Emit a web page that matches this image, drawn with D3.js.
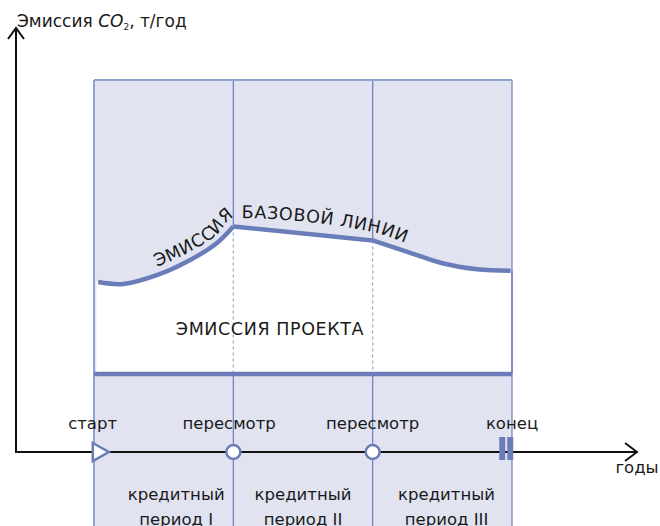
<!DOCTYPE html>
<html>
<head>
<meta charset="utf-8">
<script src="https://cdn.jsdelivr.net/npm/d3@7"></script>
<style>
  body { margin: 0; background: #fff; }
  text { font-family: "DejaVu Sans", sans-serif; fill: #1a1a1a; }
</style>
</head>
<body>
<svg id="chart" width="660" height="526"></svg>
<script>
// period boundaries (years since start)
const periods = [0, 1, 2, 3]
const periodLabels = [['кредитный', 'период I'], ['кредитный', 'период II'], ['кредитный', 'период III']]
const periodLabelX = [0.59, 1.5, 2.53]
const regionTop = 93

// baseline emission, three pieces
const baseSeg1 = [[0.03, 42.5], [0.21, 42], [0.45, 44.2], [0.69, 48], [0.88, 52.2], [1, 56.4]]
const baseSeg2 = [[1, 56.4], [2, 52.9]]
const baseSeg3 = [[2, 52.9], [2.27, 49.8], [2.5, 47.2], [2.75, 45.7], [2.99, 45.3]]
const projectLevel = 19.5

const events = [
  {t: 0.02, name: 'старт', type: 'start'},
  {t: 1, name: 'пересмотр', type: 'review'},
  {t: 2, name: 'пересмотр', type: 'review'},
  {t: 2.93, name: 'конец', type: 'end'}
]
const eventLabelX = [-0.01, 0.97, 2.0, 3.0]

const blue = '#6b7db9'
const svg = d3.select('#chart')
const x = d3.scaleLinear().domain([0, 3]).range([94, 512])
const y = d3.scaleLinear().domain([0, 100]).range([452, 52])

// lavender background
svg.append('rect')
  .attr('x', x(0)).attr('y', y(regionTop))
  .attr('width', x(3) - x(0)).attr('height', 526 - y(regionTop))
  .attr('fill', '#e1e3f1')

// vertical period lines
svg.selectAll('.vline').data(periods).join('line')
  .attr('x1', d => x(d)).attr('x2', d => x(d))
  .attr('y1', y(regionTop)).attr('y2', 526)
  .attr('stroke', d => d == 0 ? '#92a2d4' : blue)
  .attr('stroke-width', d => d == 0 ? 2 : 1.2)
svg.append('line')
  .attr('x1', x(0)).attr('x2', x(3))
  .attr('y1', y(regionTop)).attr('y2', y(regionTop))
  .attr('stroke', '#92a2d4').attr('stroke-width', 2)

// white area between baseline and project line
const curve = d3.curveCatmullRom.alpha(0.5)
const pieces = [baseSeg1, baseSeg2, baseSeg3]
const areaGen = d3.area().x(d => x(d[0])).y0(y(projectLevel)).y1(d => y(d[1]))
pieces.forEach((seg, i) => {
  const pts = i == 0 ? [[0.02, seg[0][1]]].concat(seg) : seg
  svg.append('path')
    .attr('d', areaGen.curve(i == 1 ? d3.curveLinear : curve)(pts))
    .attr('fill', '#fff').attr('stroke', '#fff').attr('stroke-width', 0.8)
})

// dashed continuation of the period lines in the white area
const baseAt = {1: 56.4, 2: 52.9, 3: 45.3}
svg.selectAll('.dline').data([1, 2, 3]).join('line')
  .attr('x1', d => x(d)).attr('x2', d => x(d))
  .attr('y1', d => y(baseAt[d])).attr('y2', y(projectLevel))
  .attr('stroke', d => d == 3 ? blue : '#9aa8d8')
  .attr('stroke-width', 1.2)
  .attr('stroke-dasharray', d => d == 3 ? null : '3,3')

// baseline curve
const line = d3.line().x(d => x(d[0])).y(d => y(d[1]))
pieces.forEach((seg, i) => {
  svg.append('path').attr('d', line.curve(i == 1 ? d3.curveLinear : curve)(seg))
    .attr('fill', 'none').attr('stroke', blue).attr('stroke-width', 4.5)
})

// label along the baseline (path shifted up a bit)
const shift = 2.1
const labelPts = baseSeg1.concat(baseSeg2.slice(1), baseSeg3.slice(1)).map(d => [d[0], d[1] + shift])
svg.append('path').attr('id', 'basePath')
  .attr('d', d3.line().x(d => x(d[0])).y(d => y(d[1])).curve(d3.curveMonotoneX)(labelPts))
  .attr('fill', 'none')
svg.append('text').attr('font-size', 17.5).attr('letter-spacing', 0.6)
  .append('textPath').attr('href', '#basePath').attr('startOffset', 60)
  .text('ЭМИССИЯ БАЗОВОЙ ЛИНИИ')

// project line
svg.append('line')
  .attr('x1', x(0)).attr('x2', x(3))
  .attr('y1', y(projectLevel)).attr('y2', y(projectLevel))
  .attr('stroke', blue).attr('stroke-width', 4.5)
svg.append('text').attr('x', 270).attr('y', 335)
  .attr('text-anchor', 'middle').attr('font-size', 17.5).attr('letter-spacing', 0.6)
  .text('ЭМИССИЯ ПРОЕКТА')

// axes
svg.append('path').attr('d', `M16,28 V${y(0)} H636`)
  .attr('fill', 'none').attr('stroke', '#111').attr('stroke-width', 2)
svg.append('path').attr('d', 'M8,39 L16,28 L24,39')
  .attr('fill', 'none').attr('stroke', '#111').attr('stroke-width', 2)
svg.append('path').attr('d', `M625,${y(0) - 9} L637,${y(0)} L625,${y(0) + 9}`)
  .attr('fill', 'none').attr('stroke', '#111').attr('stroke-width', 2)

const title = svg.append('text').attr('x', 17).attr('y', 27).attr('font-size', 17)
title.append('tspan').text('Эмиссия ')
title.append('tspan').attr('font-style', 'italic').text('CO')
title.append('tspan').attr('font-size', 9).attr('dy', 3).text('2')
title.append('tspan').attr('dy', -3).text(', т/год')

svg.append('text').attr('x', 637).attr('y', 473)
  .attr('text-anchor', 'middle').attr('font-size', 16.5).text('годы')

// event markers
events.forEach((e, i) => {
  const cx = x(e.t), cy = y(0)
  if (e.type == 'start') {
    svg.append('path').attr('d', `M${cx - 4},${cy - 9} L${cx + 12},${cy} L${cx - 4},${cy + 9} Z`)
      .attr('fill', '#fff').attr('stroke', blue).attr('stroke-width', 2.5)
  } else if (e.type == 'review') {
    svg.append('circle').attr('cx', cx).attr('cy', cy).attr('r', 7)
      .attr('fill', '#fff').attr('stroke', blue).attr('stroke-width', 2.5)
  } else {
    svg.append('rect').attr('x', cx - 3).attr('y', cy - 15).attr('width', 6).attr('height', 23).attr('fill', blue)
    svg.append('rect').attr('x', cx + 5).attr('y', cy - 15).attr('width', 6).attr('height', 23).attr('fill', blue)
  }
  svg.append('text').attr('x', x(eventLabelX[i])).attr('y', 429)
    .attr('text-anchor', 'middle').attr('font-size', 16.5).text(e.name)
})

// credit period labels
periodLabels.forEach((lines, i) => {
  lines.forEach((s, j) => {
    svg.append('text').attr('x', x(periodLabelX[i])).attr('y', 500 + j * 25)
      .attr('text-anchor', 'middle').attr('font-size', 16.5).text(s)
  })
})
</script>
</body>
</html>
